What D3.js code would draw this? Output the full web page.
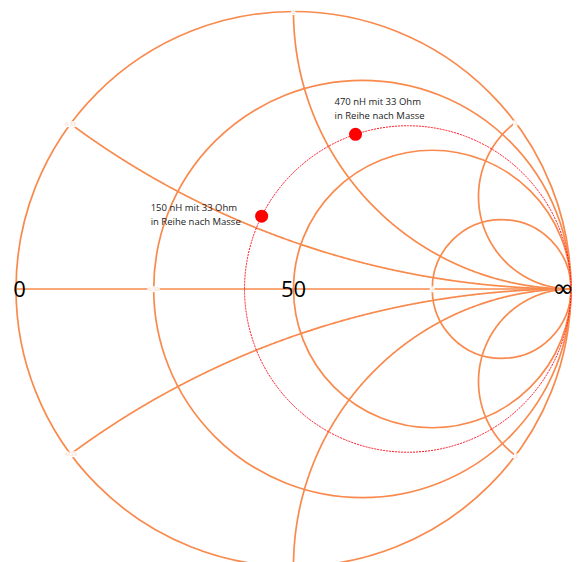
<!DOCTYPE html>
<html><head><meta charset="utf-8">
<script src="https://cdn.jsdelivr.net/npm/d3@7"></script>
<style>html,body{margin:0;padding:0;background:#fff;overflow:hidden}svg{display:block}</style>
</head><body>
<script>
// ---- data ----
const Z0 = 50;
const resistanceCircles = [0, 0.33, 1, 3];       // normalised r
const resistanceLabels = [0.33, 3];               // small labels on the axis
const reactanceArcs = [0.33, 1, 3];               // normalised |x|, drawn +/-
const axisLabels = ["0", "50", "\u221E"];
const axisLabelGamma = [-1, 0, 1];
const pointNames = [["150 nH mit 33 Ohm", "in Reihe nach Masse"], ["470 nH mit 33 Ohm", "in Reihe nach Masse"]];
const pointR = [35, 35];     // ohm
const pointX = [20, 61];     // ohm
const traceR = 35;           // ohm, dashed constant-resistance circle

// ---- layout ----
const W = 586, H = 562, cx = 293.5, cy = 289, Rr = 277.5;
const sx = d3.scaleLinear().domain([-1, 1]).range([cx - Rr, cx + Rr]);
const sy = d3.scaleLinear().domain([-1, 1]).range([cy + Rr, cy - Rr]);
const gridColor = "#F98A4D";

const svg = d3.select("body").append("svg").attr("width", W).attr("height", H);

function gamma(r, x) { // z=r+jx -> Gamma
  const dr = (r + 1) * (r + 1) + x * x;
  return [((r * r + x * x) - 1) / dr, (2 * x) / dr];
}
const line = d3.line().x(d => sx(d[0])).y(d => sy(d[1])).curve(d3.curveLinear);

const g = svg.append("g");
// horizontal axis
g.append("line").attr("x1", sx(-1)).attr("x2", sx(1)).attr("y1", sy(0)).attr("y2", sy(0))
  .attr("stroke", gridColor).attr("stroke-width", 1.7);
// resistance circles
resistanceCircles.forEach(r => {
  g.append("circle").attr("cx", sx(r / (1 + r))).attr("cy", sy(0))
    .attr("r", sx(1 / (1 + r)) - sx(0)).attr("fill", "none")
    .attr("stroke", gridColor).attr("stroke-width", 1.7);
});
// reactance arcs
const ts = d3.range(0, 1, 0.0015);
reactanceArcs.forEach(x => {
  [x, -x].forEach(xx => {
    const pts = ts.map(t => gamma(t / (1 - t + 1e-9), xx));
    pts.push([1, 0]);
    g.append("path").attr("d", line(pts)).attr("fill", "none")
      .attr("stroke", gridColor).attr("stroke-width", 1.7);
  });
});
// small grid labels
function smallLabel(p, txt) {
  g.append("text").attr("x", sx(p[0])).attr("y", sy(p[1]) + 2)
    .attr("text-anchor", "middle").attr("font-family", "DejaVu Sans").attr("font-size", 5)
    .attr("fill", "#fbd0b8").attr("stroke", "#fff").attr("stroke-width", 2.2)
    .attr("paint-order", "stroke").text(txt);
}
resistanceLabels.forEach(r => smallLabel([(r - 1) / (r + 1), 0], String(r)));
reactanceArcs.forEach(x => {
  smallLabel(gamma(0, x), String(x));
  if (sy(gamma(0, -x)[1]) < H - 6) smallLabel(gamma(0, -x), "-" + x);
});

// dashed trace circle
const tr = traceR / Z0;
svg.append("circle").attr("cx", sx(tr / (1 + tr))).attr("cy", sy(0))
  .attr("r", sx(1 / (1 + tr)) - sx(0)).attr("fill", "none")
  .attr("stroke", "#FF1020").attr("stroke-width", 1).attr("stroke-dasharray", "2,1");

// axis big labels
axisLabels.forEach((t, i) => {
  svg.append("text").attr("x", sx(axisLabelGamma[i]) + (i === 0 ? 3.5 : i === 2 ? -8 : 0)).attr("y", sy(0) + 8)
    .attr("text-anchor", "middle").attr("font-family", i === 2 ? "DejaVu Sans" : "Open Sans")
    .attr("font-size", i === 2 ? 26 : 22).attr("fill", "#000").text(t);
});

// points
pointR.forEach((R, i) => {
  const p = gamma(R / Z0, pointX[i] / Z0);
  svg.append("circle").attr("cx", sx(p[0])).attr("cy", sy(p[1])).attr("r", 6.5).attr("fill", "#FF0000");
  const txt = svg.append("text").attr("font-family", "Open Sans").attr("font-size", 9.5).attr("fill", "#222");
  const lx = i === 0 ? sx(p[0]) - 111 : sx(p[0]) - 21;
  const ly = i === 0 ? sy(p[1]) - 5 : sy(p[1]) - 29;
  pointNames[i].forEach((s, k) => txt.append("tspan").attr("x", lx).attr("y", ly + k * 13.5).text(s));
});
</script>
</body></html>
